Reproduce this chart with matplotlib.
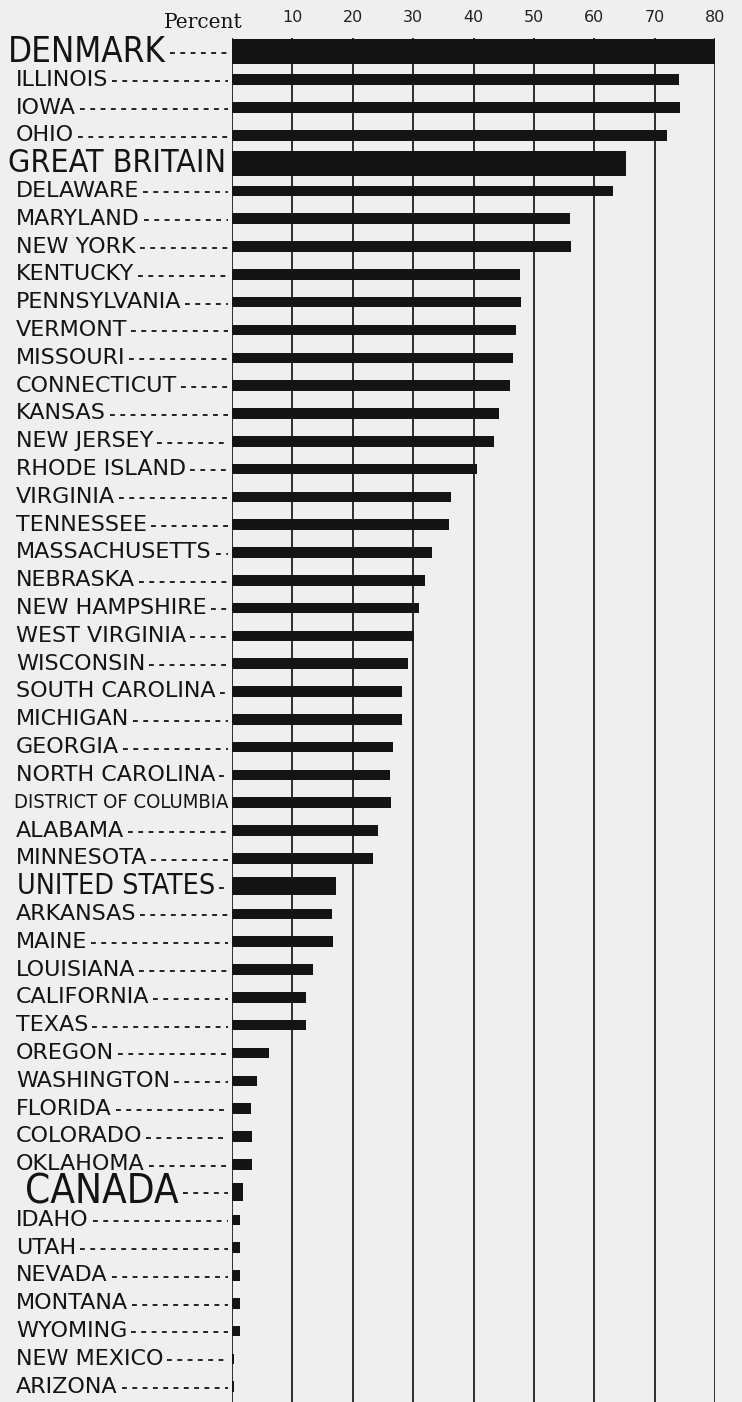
import matplotlib
matplotlib.use("Agg")
import matplotlib.pyplot as plt
from matplotlib.transforms import blended_transform_factory

# percent values
names = ["DENMARK", "ILLINOIS", "IOWA", "OHIO", "GREAT BRITAIN", "DELAWARE",
         "MARYLAND", "NEW YORK", "KENTUCKY", "PENNSYLVANIA", "VERMONT",
         "MISSOURI", "CONNECTICUT", "KANSAS", "NEW JERSEY", "RHODE ISLAND",
         "VIRGINIA", "TENNESSEE", "MASSACHUSETTS", "NEBRASKA", "NEW HAMPSHIRE",
         "WEST VIRGINIA", "WISCONSIN", "SOUTH CAROLINA", "MICHIGAN", "GEORGIA",
         "NORTH CAROLINA", "DISTRICT OF COLUMBIA", "ALABAMA", "MINNESOTA",
         "UNITED STATES", "ARKANSAS", "MAINE", "LOUISIANA", "CALIFORNIA",
         "TEXAS", "OREGON", "WASHINGTON", "FLORIDA", "COLORADO", "OKLAHOMA",
         "CANADA", "IDAHO", "UTAH", "NEVADA", "MONTANA", "WYOMING",
         "NEW MEXICO", "ARIZONA"]
percents = [80.0, 74.0, 74.2, 72.1, 65.3, 63.1,
            56.0, 56.1, 47.7, 47.9, 47.1,
            46.6, 46.1, 44.2, 43.4, 40.6,
            36.3, 35.9, 33.1, 31.9, 30.9,
            30.1, 29.1, 28.1, 28.1, 26.7,
            26.2, 26.4, 24.2, 23.3,
            17.2, 16.6, 16.7, 13.4, 12.3,
            12.3, 6.1, 4.1, 3.2, 3.3, 3.3,
            1.9, 1.3, 1.3, 1.3, 1.3, 1.3,
            0.4, 0.3]
tick_values = [10, 20, 30, 40, 50, 60, 70, 80]

W, H = 742, 1402
bg = '#efefef'
ink = '#141414'

# the countries are lettered large, with thicker bars
# name: (font size, bar height, left indent in px)
special = {
    "DENMARK": (25, 0.9, 8),
    "GREAT BRITAIN": (23, 0.9, 8),
    "UNITED STATES": (20.5, 0.66, 17),
    "CANADA": (29, 0.66, 25),
}
narrow = ['Liberation Sans Narrow', 'DejaVu Sans']

fig = plt.figure(figsize=(W / 100, H / 100), dpi=100)
fig.patch.set_facecolor(bg)
ax = fig.add_axes([232 / W, 0, (715 - 232) / W, 1 - 38 / H])
ax.set_facecolor(bg)

rows = list(range(len(names)))
heights = [special[n][1] if n in special else 0.38 for n in names]
ax.barh(rows, percents, height=heights, color=ink, zorder=3)

for v in [0] + tick_values:
    ax.axvline(v, color='#1e1e1e', lw=1.3, zorder=2)

ax.set_xlim(0, 80)
ax.set_ylim(len(names) - 0.45, -0.5)
for s in ax.spines.values():
    s.set_visible(False)
ax.set_yticks([])
ax.xaxis.tick_top()
ax.set_xticks(tick_values)
ax.set_xticklabels([str(v) for v in tick_values])
ax.tick_params(axis='x', length=0, pad=9, labelsize=11.5, colors='#222222')

fig.text(203 / W, 1 - 23 / H, "Percent", ha='center', va='center',
         fontsize=14.5, family='DejaVu Serif', color=ink)

# row labels: x in figure fraction, y in data rows
trans = blended_transform_factory(fig.transFigure, ax.transData)
labels = []
for i, n in enumerate(names):
    if n in special:
        fs, _, x0 = special[n]
        t = fig.text(x0 / W, i, n, transform=trans, ha='left', va='center',
                     fontsize=fs, family=narrow, fontstretch='condensed', color=ink)
    elif n == "DISTRICT OF COLUMBIA":
        t = fig.text(14 / W, i, n, transform=trans, ha='left', va='center',
                     fontsize=14.5, family=narrow, fontstretch='condensed', color=ink)
    else:
        t = fig.text(16 / W, i, n, transform=trans, ha='left', va='center',
                     fontsize=16, color=ink)
    labels.append(t)

# dotted leaders from each label to the zero line
fig.canvas.draw()
renderer = fig.canvas.get_renderer()
inv = ax.transData.inverted()
zero_px = ax.transData.transform((0, 0))[0]
for i, t in enumerate(labels):
    bb = t.get_window_extent(renderer)
    x_start = bb.x1 + 4
    x_end = zero_px - 4
    if x_end - x_start < 8:
        continue
    xa = inv.transform((x_start, 0))[0]
    xb = inv.transform((x_end, 0))[0]
    ax.plot([xa, xb], [i + 0.05, i + 0.05], color='#222222', lw=1.4,
            linestyle=(0, (2.5, 2.8)), clip_on=False, zorder=3)

fig.savefig('out.png', dpi=100, facecolor=bg)
